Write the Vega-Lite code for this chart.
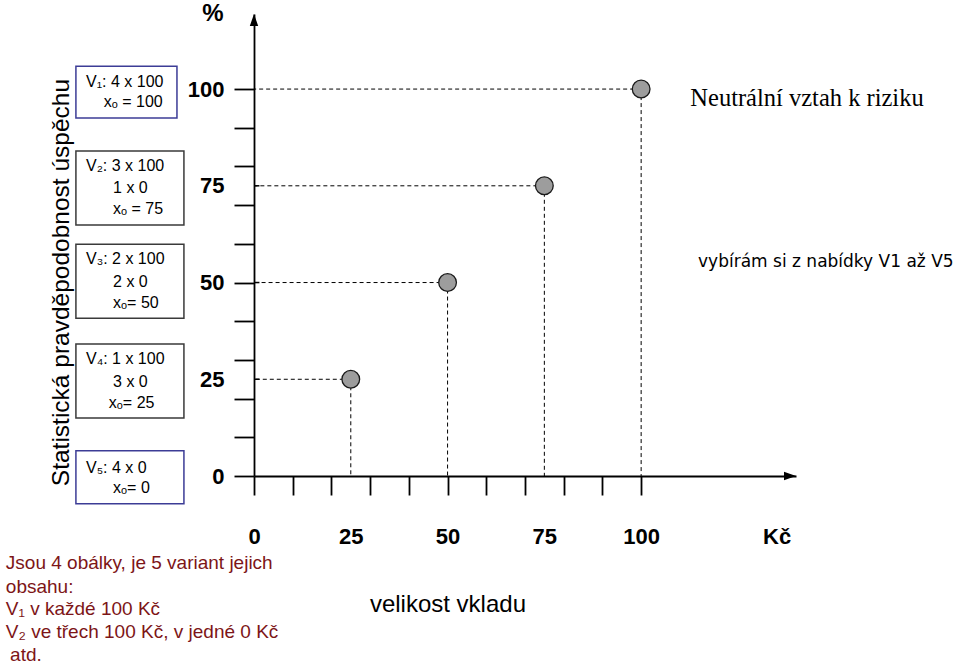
{
  "$schema": "https://vega.github.io/schema/vega-lite/v6.json",
  "autosize": "none",
  "width": 542,
  "height": 462,
  "padding": {"left": 254, "top": 14, "right": 164, "bottom": 190},
  "background": "white",
  "config": {"view": {"stroke": null}, "font": "Liberation Sans"},
  "datasets": {
    "pts": [{"v": 25}, {"v": 50}, {"v": 75}, {"v": 100}],
    "stubs": [{"v": 25}, {"v": 50}, {"v": 75}],
    "boxes": [
      {"x1": -46.0, "x2": -19.9, "y1": 105.9, "y2": 92.5, "kind": "blue"},
      {"x1": -46.0, "x2": -18.1, "y1": 84.0, "y2": 64.9, "kind": "black"},
      {"x1": -46.0, "x2": -18.1, "y1": 59.9, "y2": 40.8, "kind": "black"},
      {"x1": -46.0, "x2": -18.1, "y1": 34.1, "y2": 15.0, "kind": "black"},
      {"x1": -46.0, "x2": -18.1, "y1": 6.5, "y2": -7.2, "kind": "blue"}
    ],
    "boxText": [
      {"x": -43.4, "y": 101.8, "t": "V₁: 4 x 100"},
      {"x": -38.8, "y": 96.7, "t": "xₒ = 100"},
      {"x": -43.4, "y": 80.1, "t": "V₂: 3 x 100"},
      {"x": -36.4, "y": 74.4, "t": "1 x  0"},
      {"x": -36.4, "y": 69.0, "t": "xₒ = 75"},
      {"x": -43.4, "y": 56.1, "t": "V₃: 2 x 100"},
      {"x": -36.4, "y": 50.1, "t": "2 x  0"},
      {"x": -36.4, "y": 44.7, "t": "xₒ= 50"},
      {"x": -43.4, "y": 30.2, "t": "V₄: 1 x 100"},
      {"x": -36.4, "y": 24.3, "t": "3 x  0"},
      {"x": -37.5, "y": 18.9, "t": "xₒ= 25"},
      {"x": -43.4, "y": 2.1, "t": "V₅: 4 x 0"},
      {"x": -36.4, "y": -3.1, "t": "xₒ= 0"}
    ],
    "notes": [
      {"x": -64.1, "y": -22.5, "t": "Jsou 4 obálky, je 5 variant jejich"},
      {"x": -64.1, "y": -28.7, "t": "obsahu:"},
      {"x": -64.1, "y": -34.4, "t": "V₁ v každé 100 Kč"},
      {"x": -64.1, "y": -40.3, "t": "V₂ ve třech 100 Kč, v jedné 0 Kč"},
      {"x": -63.0, "y": -46.3, "t": "atd."}
    ]
  },
  "layer": [
    {
      "data": {"name": "boxes"},
      "mark": {"type": "rect", "fill": "white", "strokeWidth": 1.5},
      "encoding": {
        "x": {"field": "x1", "type": "quantitative", "title": null, "scale": {"domain": [0, 140], "nice": false, "zero": false},
          "axis": {
            "values": [0, 10, 20, 25, 30, 40, 50, 60, 70, 75, 80, 90, 100, 135],
            "tickCount": 100,
            "title": null, "grid": false,
            "domainColor": "black", "domainWidth": 1.8,
            "tickColor": "black", "tickWidth": 1.8, "tickSize": 19,
            "tickOpacity": {"condition": {"test": "datum.value % 10 != 0 || datum.value > 100", "value": 0}, "value": 1},
            "labelExpr": "datum.value == 135 ? 'Kč' : (datum.value % 25 == 0 ? datum.label : '')",
            "labelFont": "Liberation Sans", "labelFontSize": 22, "labelFontWeight": "bold", "labelColor": "black",
            "labelPadding": 31, "labelOverlap": false, "labelFlush": false, "labelBound": false
          }},
        "x2": {"field": "x2"},
        "y": {"field": "y1", "type": "quantitative", "title": null, "scale": {"domain": [0, 119.4], "nice": false, "zero": false},
          "axis": {
            "values": [0, 10, 20, 25, 30, 40, 50, 60, 70, 75, 80, 90, 100],
            "tickCount": 100,
            "title": null, "grid": false,
            "domainColor": "black", "domainWidth": 1.8,
            "tickColor": "black", "tickWidth": 1.8, "tickSize": 20,
            "tickOpacity": {"condition": {"test": "datum.value % 10 != 0", "value": 0}, "value": 1},
            "labelExpr": "datum.value % 25 == 0 ? datum.label : ''",
            "labelFont": "Liberation Sans", "labelFontSize": 22, "labelFontWeight": "bold", "labelColor": "black",
            "labelPadding": 10, "labelOverlap": false, "labelFlush": false, "labelBound": false
          }},
        "y2": {"field": "y2"},
        "stroke": {"field": "kind", "type": "nominal", "scale": {"domain": ["blue", "black"], "range": ["#3c3c96", "#3a3a3a"]}, "legend": null}
      }
    },
    {
      "data": {"name": "pts"},
      "mark": {"type": "rule", "strokeDash": [4, 3], "color": "black", "strokeWidth": 1},
      "encoding": {
        "x": {"field": "v", "type": "quantitative", "title": null, "scale": {"domain": [0, 140], "nice": false}},
        "x2": {"datum": 0},
        "y": {"field": "v", "type": "quantitative", "title": null, "scale": {"domain": [0, 119.4], "nice": false}}
      }
    },
    {
      "data": {"name": "pts"},
      "mark": {"type": "rule", "strokeDash": [4, 3], "color": "black", "strokeWidth": 1},
      "encoding": {
        "x": {"field": "v", "type": "quantitative", "title": null, "scale": {"domain": [0, 140], "nice": false}},
        "y": {"field": "v", "type": "quantitative", "title": null, "scale": {"domain": [0, 119.4], "nice": false}},
        "y2": {"datum": 0}
      }
    },
    {
      "data": {"name": "stubs"},
      "mark": {"type": "rule", "color": "black", "strokeWidth": 1.5},
      "encoding": {
        "x": {"datum": 1.4, "type": "quantitative", "title": null, "scale": {"domain": [0, 140], "nice": false}},
        "x2": {"datum": 0},
        "y": {"field": "v", "type": "quantitative", "title": null, "scale": {"domain": [0, 119.4], "nice": false}}
      }
    },
    {
      "data": {"name": "pts"},
      "mark": {"type": "point", "shape": "circle", "filled": true, "fill": "#9d9d9d", "stroke": "#1a1a1a", "strokeWidth": 1.3, "size": 314, "opacity": 1},
      "encoding": {
        "x": {"field": "v", "type": "quantitative", "title": null, "scale": {"domain": [0, 140], "nice": false}},
        "y": {"field": "v", "type": "quantitative", "title": null, "scale": {"domain": [0, 119.4], "nice": false}}
      }
    },
    {
      "data": {"values": [{"x": 0, "y": 117.85, "a": 0}, {"x": 138.45, "y": 0, "a": 90}]},
      "mark": {"type": "point", "shape": "M0,-1L-0.7,1L0.7,1Z", "filled": true, "fill": "black", "size": 144, "opacity": 1},
      "encoding": {
        "x": {"field": "x", "type": "quantitative", "title": null, "scale": {"domain": [0, 140], "nice": false}},
        "y": {"field": "y", "type": "quantitative", "title": null, "scale": {"domain": [0, 119.4], "nice": false}},
        "angle": {"field": "a", "type": "quantitative", "scale": null}
      }
    },
    {
      "data": {"name": "boxText"},
      "mark": {"type": "text", "font": "Liberation Sans", "fontSize": 16, "align": "left", "baseline": "middle", "color": "black"},
      "encoding": {
        "x": {"field": "x", "type": "quantitative", "title": null, "scale": {"domain": [0, 140], "nice": false}},
        "y": {"field": "y", "type": "quantitative", "title": null, "scale": {"domain": [0, 119.4], "nice": false}},
        "text": {"field": "t"}
      }
    },
    {
      "data": {"name": "notes"},
      "mark": {"type": "text", "font": "Liberation Sans", "fontSize": 19, "align": "left", "baseline": "middle", "color": "#7d1517"},
      "encoding": {
        "x": {"field": "x", "type": "quantitative", "title": null, "scale": {"domain": [0, 140], "nice": false}},
        "y": {"field": "y", "type": "quantitative", "title": null, "scale": {"domain": [0, 119.4], "nice": false}},
        "text": {"field": "t"}
      }
    },
    {
      "data": {"values": [{"x": -49.6, "y": 50.0, "t": "Statistická pravděpodobnost úspěchu"}]},
      "mark": {"type": "text", "font": "Liberation Sans", "fontSize": 24.5, "align": "center", "baseline": "middle", "angle": 270, "color": "black"},
      "encoding": {
        "x": {"field": "x", "type": "quantitative", "title": null, "scale": {"domain": [0, 140], "nice": false}},
        "y": {"field": "y", "type": "quantitative", "title": null, "scale": {"domain": [0, 119.4], "nice": false}},
        "text": {"field": "t"}
      }
    },
    {
      "data": {"values": [{"x": 50.1, "y": -35.1, "t": "velikost vkladu"}]},
      "mark": {"type": "text", "font": "Liberation Sans", "fontSize": 24, "align": "center", "baseline": "alphabetic", "color": "black"},
      "encoding": {
        "x": {"field": "x", "type": "quantitative", "title": null, "scale": {"domain": [0, 140], "nice": false}},
        "y": {"field": "y", "type": "quantitative", "title": null, "scale": {"domain": [0, 119.4], "nice": false}},
        "text": {"field": "t"}
      }
    },
    {
      "data": {"values": [{"x": -10.6, "y": 119.3, "t": "%"}]},
      "mark": {"type": "text", "font": "Liberation Sans", "fontSize": 24, "fontWeight": "bold", "align": "center", "baseline": "middle", "color": "black"},
      "encoding": {
        "x": {"field": "x", "type": "quantitative", "title": null, "scale": {"domain": [0, 140], "nice": false}},
        "y": {"field": "y", "type": "quantitative", "title": null, "scale": {"domain": [0, 119.4], "nice": false}},
        "text": {"field": "t"}
      }
    },
    {
      "data": {"values": [{"x": 112.7, "y": 95.6, "t": "Neutrální vztah k riziku"}]},
      "mark": {"type": "text", "font": "Liberation Serif", "fontSize": 24.5, "align": "left", "baseline": "alphabetic", "color": "black"},
      "encoding": {
        "x": {"field": "x", "type": "quantitative", "title": null, "scale": {"domain": [0, 140], "nice": false}},
        "y": {"field": "y", "type": "quantitative", "title": null, "scale": {"domain": [0, 119.4], "nice": false}},
        "text": {"field": "t"}
      }
    },
    {
      "data": {"values": [{"x": 114.7, "y": 54.0, "t": "vybírám si z nabídky V1 až V5"}]},
      "mark": {"type": "text", "font": "Comic Sans MS, DejaVu Sans", "fontSize": 17, "align": "left", "baseline": "alphabetic", "color": "black"},
      "encoding": {
        "x": {"field": "x", "type": "quantitative", "title": null, "scale": {"domain": [0, 140], "nice": false}},
        "y": {"field": "y", "type": "quantitative", "title": null, "scale": {"domain": [0, 119.4], "nice": false}},
        "text": {"field": "t"}
      }
    }
  ]
}
